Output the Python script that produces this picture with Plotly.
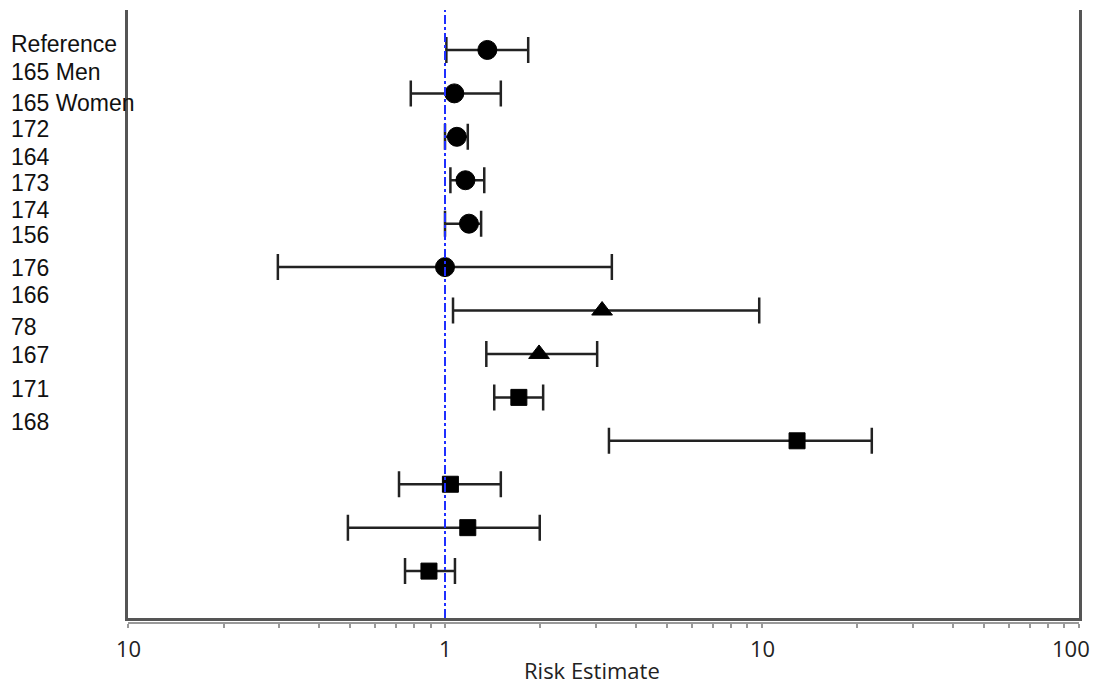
import math
import plotly.graph_objects as go

# ---- data ----
rows = list(range(1, 14))
estimate = [1.36, 1.07, 1.09, 1.16, 1.19, 1.0, 3.13, 1.98, 1.71, 12.9, 1.04, 1.18, 0.89]
lower = [1.01, 0.78, 1.0, 1.04, 1.0, 0.297, 1.06, 1.35, 1.43, 3.29, 0.716, 0.494, 0.748]
upper = [1.83, 1.50, 1.18, 1.33, 1.30, 3.36, 9.8, 3.02, 2.04, 22.2, 1.50, 1.99, 1.075]
marker_kind = ["circle"] * 6 + ["triangle-up"] * 2 + ["square"] * 5
study_labels = ["Reference", "165 Men", "165 Women", "172", "164", "173", "174",
                "156", "176", "166", "78", "167", "171", "168"]
tick_vals = [0.1, 1, 10, 100]
tick_text = ["10", "1", "10", "100"]

# ---- layout constants (pixels) ----
W, H = 1093, 684
ml, mr, mt, mb = 128, 14, 10, 40
plot_h = H - mt - mb
frame_bottom_px = 618
axis2_px = 623
tick_label_px = 648
label_y_px = [44, 72, 103, 129, 157, 183, 210, 235, 268, 295, 327, 355, 389, 422]


def py(px):
    return (H - mb - px) / plot_h

minor = []
for d in [0.1, 1, 10]:
    for k in range(1, 10):
        minor.append(round(d * k, 6))
minor.append(100)
all_ticks = sorted(set(minor))

sizes = {"circle": 19, "triangle-up": 18, "square": 16}
tick_font = dict(family="Open Sans", size=22, color="#222222")

fig = go.Figure()
fig.add_trace(go.Scatter(
    x=estimate, y=rows, mode="markers",
    marker=dict(symbol=marker_kind, size=[sizes[m] for m in marker_kind], color="black",
                opacity=1, line=dict(color="black", width=1)),
    error_x=dict(type="data", symmetric=False,
                 array=[u - e for u, e in zip(upper, estimate)],
                 arrayminus=[e - l for e, l in zip(estimate, lower)],
                 color="#222222", thickness=2.5, width=13),
    showlegend=False, hoverinfo="skip"))
# invisible trace for second x axis
fig.add_trace(go.Scatter(x=[1], y=[1], xaxis="x2", mode="markers",
                         marker=dict(opacity=0), showlegend=False, hoverinfo="skip"))

fig.add_shape(type="line", xref="x", yref="y domain", x0=1, x1=1, y0=0, y1=1,
              line=dict(color="#1f2fff", width=2, dash="dashdot"))

for lab, ypx in zip(study_labels, label_y_px):
    fig.add_annotation(text=lab, xref="paper", yref="paper",
                       x=(9 - ml) / (W - ml - mr), y=py(ypx),
                       xanchor="left", yanchor="middle", showarrow=False,
                       font=dict(family="Liberation Sans, Arial", size=23, color="#111111"))

# major tick labels (the last one is kept inside the page edge)
for i, (v, t) in enumerate(zip(tick_vals, tick_text)):
    last = i == len(tick_vals) - 1
    fig.add_annotation(text=t, xref="x", yref="paper", x=math.log10(v), y=py(tick_label_px),
                       xanchor="right" if last else "center", xshift=13 if last else 0,
                       yanchor="middle", showarrow=False, font=tick_font)

fig.add_annotation(text="Risk Estimate", xref="paper", yref="paper",
                   x=(592 - ml) / (W - ml - mr), y=py(670),
                   xanchor="center", yanchor="middle", showarrow=False,
                   font=tick_font)

dom_bottom = py(frame_bottom_px)
fig.update_layout(
    width=W, height=H,
    margin=dict(l=ml, r=mr, t=mt, b=mb, autoexpand=False),
    plot_bgcolor="white", paper_bgcolor="white",
    xaxis=dict(type="log", range=[-1, 2], showgrid=False, zeroline=False,
               showline=True, linecolor="#555555", linewidth=2.5,
               showticklabels=False, ticks="", automargin=False),
    xaxis2=dict(type="log", range=[-1.0003, 2.0003], overlaying="x", anchor="free",
                position=py(axis2_px), side="bottom", showgrid=False, zeroline=False,
                showline=True, linecolor="#999999", linewidth=1.5,
                tickmode="array", tickvals=all_ticks, showticklabels=False,
                ticks="outside", ticklen=4, tickcolor="#999999", tickwidth=1.5,
                automargin=False),
    yaxis=dict(range=[14.08, 0.08], domain=[dom_bottom, 1], showgrid=False,
               zeroline=False, showline=True, mirror=True, linecolor="#555555",
               linewidth=2.5, showticklabels=False, ticks="", automargin=False),
)

fig.write_html("out.html")
